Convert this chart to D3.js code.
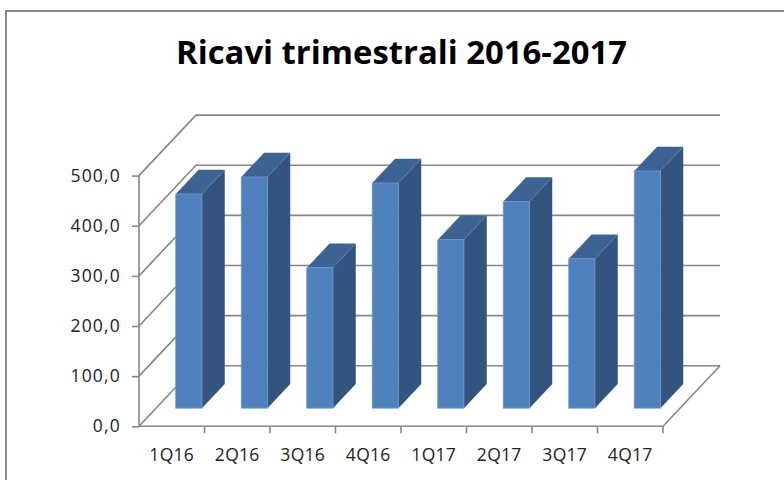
<!DOCTYPE html>
<html>
<head>
<meta charset="utf-8">
<script src="https://d3js.org/d3.v7.min.js"></script>
<style>
  body { margin: 0; background: #fff; }
  svg { display: block; }
</style>
</head>
<body>
<div id="chart"></div>
<script>
// Data
const quarters = ["1Q16", "2Q16", "3Q16", "4Q16", "1Q17", "2Q17", "3Q17", "4Q17"];
const revenues = [427, 461, 280, 449, 336, 412, 298, 473];
const yTicks = [0, 100, 200, 300, 400, 500];
const title = "Ricavi trimestrali 2016-2017";

const config = {
  width: 784,
  height: 480,
  plot: { left: 139, right: 663, top: 175.6, bottom: 426.3 },
  depth: { dx: 57, dy: -60.5 },   // oblique offset from front to back wall
  barFront: 0.3, barBack: 0.7,     // bar depth slice (fraction of full depth)
  gridColor: "#868686",
  front: "#4f81bd", side: "#32547f", top: "#3c6394"
};

const svg = d3.select("#chart").append("svg")
  .attr("width", config.width)
  .attr("height", config.height);

// Outer chart frame
svg.append("rect")
  .attr("x", 6).attr("y", 11)
  .attr("width", 800).attr("height", 500)
  .attr("fill", "none")
  .attr("stroke", "#898989")
  .attr("stroke-width", 2);

// Title
svg.append("text")
  .attr("x", 401.5).attr("y", 64)
  .attr("text-anchor", "middle")
  .attr("font-family", "'Open Sans', sans-serif")
  .attr("font-weight", "bold")
  .attr("font-size", 33)
  .attr("textLength", 451)
  .attr("lengthAdjust", "spacingAndGlyphs")
  .attr("fill", "#000")
  .text(title);

// Scales
const x = d3.scaleBand()
  .domain(quarters)
  .range([config.plot.left, config.plot.right])
  .padding(0);

const y = d3.scaleLinear()
  .domain([0, 500])
  .range([config.plot.bottom, config.plot.top]);

const DX = config.depth.dx, DY = config.depth.dy;

// Back wall + side wall gridlines
const grid = svg.append("g")
  .attr("stroke", config.gridColor)
  .attr("stroke-width", 1.6)
  .attr("fill", "none");

yTicks.forEach(v => {
  grid.append("path").attr("d", d3.line()([
    [config.plot.left, y(v)],
    [config.plot.left + DX, y(v) + DY],
    [config.plot.right + DX, y(v) + DY]
  ]));
});

// Floor: front edge and right edge
grid.append("path").attr("d", d3.line()([
  [config.plot.left, y(0)],
  [config.plot.right, y(0)],
  [config.plot.right + DX, y(0) + DY]
]));

// Axes
const yAxis = d3.axisLeft(y)
  .tickValues(yTicks)
  .tickSize(7)
  .tickPadding(11)
  .tickFormat(d => d3.format(".1f")(d).replace(".", ","));

const yAxisG = svg.append("g")
  .attr("transform", `translate(${config.plot.left},0)`)
  .call(yAxis);

const xAxis = d3.axisBottom(x)
  .tickSize(0)
  .tickPadding(22);

const xAxisG = svg.append("g")
  .attr("transform", `translate(0,${config.plot.bottom})`)
  .call(xAxis);

// tick marks at band boundaries
xAxisG.selectAll(".bound")
  .data(quarters.slice(1).concat(["end"]))
  .join("line")
  .attr("class", "bound")
  .attr("x1", (d, i) => config.plot.left + x.step() * (i + 1))
  .attr("x2", (d, i) => config.plot.left + x.step() * (i + 1))
  .attr("y1", 0).attr("y2", 7);

[yAxisG, xAxisG].forEach(g => {
  g.selectAll(".domain, line")
    .attr("stroke", config.gridColor)
    .attr("stroke-width", 1.6);
  g.selectAll("text")
    .attr("font-family", "'Open Sans', sans-serif")
    .attr("font-size", 17.5)
    .attr("fill", "#222");
});
yAxisG.selectAll("text").attr("letter-spacing", 1.2);
xAxisG.selectAll("text").attr("letter-spacing", 0.3);
yAxisG.select(".domain").attr("d", `M0,${y(500)}V${y(0)}`);
xAxisG.select(".domain").remove();

// 3D bars
const f0 = config.barFront, f1 = config.barBack;
const bw = x.step() * 0.4;
const bars = svg.append("g").selectAll("g")
  .data(quarters.map((q, i) => ({ q, v: revenues[i] })))
  .join("g");

const geo = d => {
  const x0 = x(d.q) + x.step() * 0.3 + DX * f0;
  const x1 = x0 + bw;
  const yT = y(d.v) + DY * f0;
  const yB = y(0) + DY * f0;
  const ddx = DX * (f1 - f0), ddy = DY * (f1 - f0);
  return { x0, x1, yT, yB, ddx, ddy };
};

bars.append("path")
  .attr("fill", config.side)
  .attr("d", d => {
    const g = geo(d);
    return d3.line()([[g.x1, g.yT], [g.x1 + g.ddx, g.yT + g.ddy], [g.x1 + g.ddx, g.yB + g.ddy], [g.x1, g.yB]]) + "Z";
  });

bars.append("path")
  .attr("fill", config.top)
  .attr("d", d => {
    const g = geo(d);
    return d3.line()([[g.x0, g.yT], [g.x1, g.yT], [g.x1 + g.ddx, g.yT + g.ddy], [g.x0 + g.ddx, g.yT + g.ddy]]) + "Z";
  });

bars.append("rect")
  .attr("fill", config.front)
  .attr("stroke", "#6f98cc")
  .attr("stroke-width", 0.8)
  .attr("x", d => geo(d).x0)
  .attr("y", d => geo(d).yT)
  .attr("width", bw)
  .attr("height", d => geo(d).yB - geo(d).yT);
</script>
</body>
</html>
